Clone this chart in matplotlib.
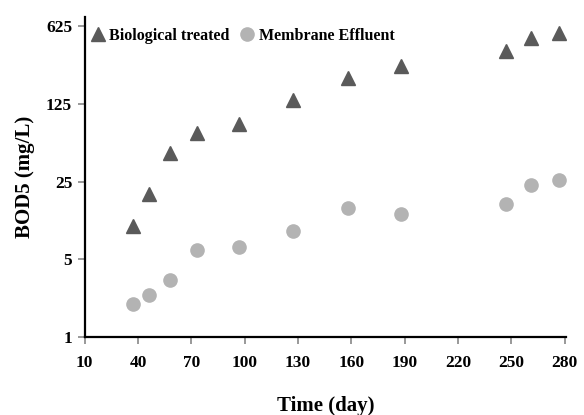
import matplotlib
matplotlib.use("Agg")
import matplotlib.pyplot as plt
from matplotlib.ticker import FixedLocator, FixedFormatter, NullLocator

plt.rcParams['font.family'] = ['Liberation Serif', 'DejaVu Serif']
plt.rcParams['font.weight'] = 'bold'

days = [37, 46, 58, 73, 97, 127, 158, 188, 247, 261, 277]
bio_treated = [10, 19.4, 45, 68, 83, 136, 214, 272, 371, 490, 544]
membrane = [2.0, 2.4, 3.25, 6.0, 6.4, 8.9, 14.4, 12.8, 15.8, 23.4, 25.9]

xticks = [10, 40, 70, 100, 130, 160, 190, 220, 250, 280]
yticks = [1, 5, 25, 125, 625]

fig = plt.figure(figsize=(5.84, 4.15), dpi=100)
ax = fig.add_axes([0.145, 0.188, 0.825, 0.772])

ax.plot(days, bio_treated, linestyle='none', marker='^', markersize=10.5,
        color='#5a5a5a', label='Biological treated')
ax.plot(days, membrane, linestyle='none', marker='o', markersize=9.5,
        color='#b3b3b3', label='Membrane Effluent')

ax.set_yscale('log')
ax.set_ylim(1, 760)
ax.set_xlim(10, 281)
ax.yaxis.set_major_locator(FixedLocator(yticks))
ax.yaxis.set_major_formatter(FixedFormatter([str(v) for v in yticks]))
ax.yaxis.set_minor_locator(NullLocator())
ax.set_xticks(xticks)
ax.set_xticklabels([str(v) for v in xticks])

for s in ['top', 'right']:
    ax.spines[s].set_visible(False)
for s in ['left', 'bottom']:
    ax.spines[s].set_linewidth(1.6)
ax.tick_params(axis='both', length=5, width=1.2, color='#888888',
               labelsize=12.5, pad=4)
ax.tick_params(axis='x', pad=8)

ax.set_xlabel('Time (day)', fontsize=15, fontweight='bold', labelpad=18)
ax.set_ylabel('BOD5 (mg/L)', fontsize=15, fontweight='bold', labelpad=8)

ax.legend(loc='upper left', ncol=2, frameon=False, fontsize=11.5,
          handletextpad=0.1, columnspacing=0.5, borderaxespad=0.0,
          handlelength=1.2, bbox_to_anchor=(-0.005, 0.985))

fig.savefig('out.png', dpi=100)
